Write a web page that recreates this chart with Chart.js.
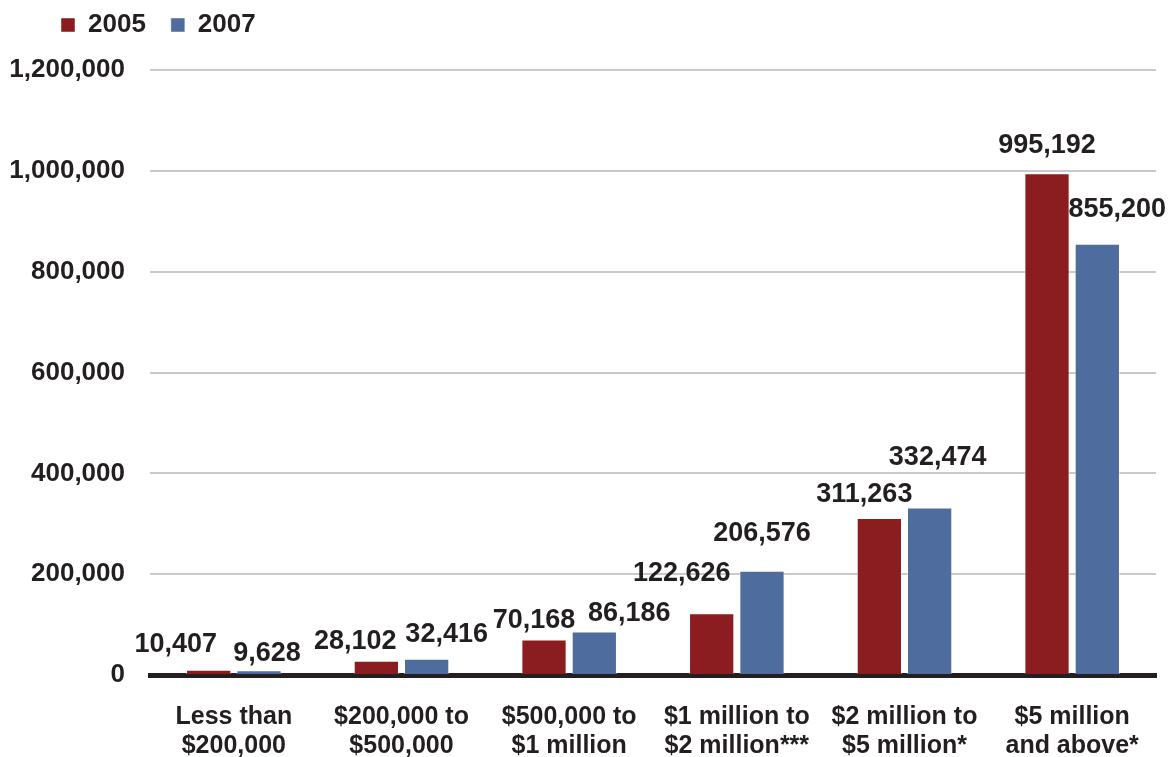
<!DOCTYPE html>
<html>
<head>
<meta charset="utf-8">
<script src="https://cdn.jsdelivr.net/npm/chart.js@4.4.1/dist/chart.umd.min.js"></script>
<style>
  html, body { margin: 0; padding: 0; background: #fff; }
  #wrap { width: 1172px; height: 757px; }
</style>
</head>
<body>
<div id="wrap"><canvas id="wealthChart"></canvas></div>
<script>
// ------------------- Data -------------------
const categories = [
  ["Less than", "$200,000"],
  ["$200,000 to", "$500,000"],
  ["$500,000 to", "$1 million"],
  ["$1 million to", "$2 million***"],
  ["$2 million to", "$5 million*"],
  ["$5 million", "and above*"]
];
const values2005 = [10407, 28102, 70168, 122626, 311263, 995192];
const values2007 = [9628, 32416, 86186, 206576, 332474, 855200];
const yMin = 0;
const yMax = 1200000;
const yStep = 200000;

// nudges [dx, dy] for the value labels, measured from bar centre / bar top
const labelShift2005 = [[-33, 25], [-21, 19], [-10, 19], [-30, 40], [-15, 24], [0, 28]];
const labelShift2007 = [[8, 17], [20, 24], [35, 18], [0, 37], [8, 50], [20, 34]];

const textColor = "#231f20";
const mainFont = "'Liberation Sans', Arial, sans-serif";

// ------------------- Plugins -------------------
const valueLabels = {
  id: "valueLabels",
  afterDatasetsDraw(chart) {
    const ctx = chart.ctx;
    ctx.save();
    ctx.font = "bold 27px " + mainFont;
    ctx.fillStyle = textColor;
    ctx.textAlign = "center";
    ctx.textBaseline = "middle";
    chart.data.datasets.forEach((ds, di) => {
      const shifts = di === 0 ? labelShift2005 : labelShift2007;
      chart.getDatasetMeta(di).data.forEach((bar, i) => {
        ctx.fillText(ds.data[i].toLocaleString("en-US"), bar.x + shifts[i][0], bar.y - shifts[i][1]);
      });
    });
    ctx.restore();
  }
};

// move the legend up/left like in the original
const legendNudge = {
  id: "legendNudge",
  afterLayout(chart) {
    chart.legend.left = 36;
    chart.legend.top = -13;
  }
};

// ------------------- Chart -------------------
const ctx = document.getElementById("wealthChart").getContext("2d");

new Chart(ctx, {
  type: "bar",
  data: {
    labels: categories,
    datasets: [{
      label: "2005",
      data: values2005,
      backgroundColor: "#8b1c20",
      borderColor: "rgba(255,255,255,0.45)",
      borderWidth: 1,
      categoryPercentage: 0.6,
      barPercentage: 0.9
    }, {
      label: "2007",
      data: values2007,
      backgroundColor: "#4e6c9d",
      borderColor: "rgba(255,255,255,0.45)",
      borderWidth: 1,
      categoryPercentage: 0.6,
      barPercentage: 0.9
    }]
  },
  options: {
    responsive: true,
    maintainAspectRatio: false,
    animation: false,
    layout: { padding: { left: 10, right: 16, top: 9, bottom: 0 } },
    scales: {
      x: {
        z: 1,
        grid: { display: false, drawTicks: false },
        border: { display: true, color: textColor, width: 5 },
        ticks: {
          color: textColor,
          padding: 28,
          maxRotation: 0,
          autoSkip: false,
          font: { family: mainFont, weight: "bold", size: 25, lineHeight: 1.16 }
        },
        afterFit: scale => { scale.height = 82; }
      },
      y: {
        min: yMin,
        max: yMax,
        grid: {
          drawTicks: false,
          lineWidth: 2,
          color: c => c.tick && c.tick.value === 0 ? "rgba(0,0,0,0)" : "#c9c9c9"
        },
        border: { display: false },
        ticks: {
          stepSize: yStep,
          padding: 25,
          color: textColor,
          font: { family: mainFont, weight: "bold", size: 26 },
          callback: v => v.toLocaleString("en-US")
        },
        afterFit: scale => { scale.width = 140; }
      }
    },
    plugins: {
      legend: {
        position: "top",
        align: "start",
        maxHeight: 68,
        labels: {
          color: textColor,
          boxWidth: 14,
          boxHeight: 14,
          padding: 25,
          font: { family: mainFont, weight: "bold", size: 26 }
        }
      },
      tooltip: { enabled: false }
    }
  },
  plugins: [valueLabels, legendNudge]
});
</script>
</body>
</html>
